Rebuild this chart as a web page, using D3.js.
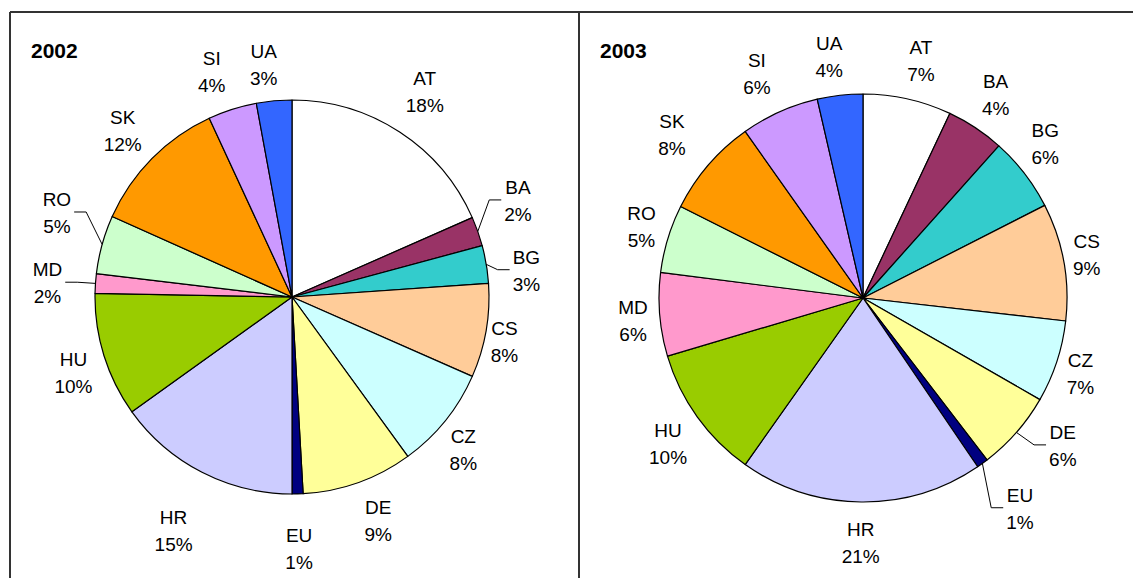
<html>
<script src='https://d3js.org/d3.v7.min.js'></script>
<style>
body {margin:0; background:#fff;}
text {font-family: 'Liberation Sans', Arial, sans-serif; fill:#000;}
</style>
<body>
<svg width=1133 height=578></svg>
<script>
// data
var countries = ["AT","BA","BG","CS","CZ","DE","EU","HR","HU","MD","RO","SK","SI","UA"];
var colors = ["#ffffff","#993366","#33cccc","#ffcc99","#ccffff","#ffff99","#000080",
              "#ccccff","#99cc00","#ff99cc","#ccffcc","#ff9900","#cc99ff","#3366ff"];

var values2002 = [18.4, 2.4, 3.1, 7.7, 8.4, 9.1, 0.9, 15.1, 10.2, 1.6, 4.8, 11.4, 4.0, 2.9];
var labels2002 = ["18%","2%","3%","8%","8%","9%","1%","15%","10%","2%","5%","12%","4%","3%"];

var values2003 = [7.0, 4.6, 5.9, 9.3, 6.5, 6.3, 0.9, 19.3, 10.6, 6.6, 5.4, 7.8, 6.2, 3.6];
var labels2003 = ["7%","4%","6%","9%","7%","6%","1%","21%","10%","6%","5%","8%","6%","4%"];

// layout: label placement as [angle shift in degrees, distance from centre]
var charts = [
  {title: "2002", values: values2002, labels: labels2002, cx: 292, cy: 297, r: 197, tx: 31, ty: 58,
   place: {AT:[-0.3,245], BA:[-3.8,246], BG:[2.9,236], CS:[1.8,217], CZ:[2.7,229], DE:[-1.5,239],
           EU:[0,251], HR:[-0.2,261], HU:[-1.6,231], MD:[-0.5,245], RO:[4.4,250], SK:[0,238],
           SI:[-1.9,240], UA:[-1.7,235]},
   leaders: ["BA","BG","MD","RO"]},
  {title: "2003", values: values2003, labels: labels2003, cx: 863, cy: 298, r: 204, tx: 600, ty: 58,
   place: {AT:[1.1,245], BA:[-0.4,243], BG:[-2.7,239], CS:[-0.9,228], CZ:[0.9,230], DE:[-4.9,248],
           EU:[-1,262], HR:[0,244], HU:[-1,243], MD:[-0.8,231], RO:[1.1,233], SK:[0,252],
           SI:[-1.1,249], UA:[-1.5,244]},
   leaders: ["DE","EU"]}
];

var svg = d3.select("svg");
var fontSize = 19;

// frame
svg.append("path")
  .attr("d", "M10,12H1133M10,12V578M579,12V578")
  .attr("fill", "none").attr("stroke", "#333").attr("stroke-width", 2);

var color = d3.scaleOrdinal().domain(countries).range(colors);
var pie = d3.pie().sort(null).value(function(d) { return d.v; });

function polar(c, a, R) {
  return [c.cx + R * Math.sin(a), c.cy - R * Math.cos(a)];
}

charts.forEach(function(c) {
  var rows = countries.map(function(k, i) { return {k: k, v: c.values[i], lab: c.labels[i]}; });
  var arcs = pie(rows);
  var arc = d3.arc().innerRadius(0).outerRadius(c.r);
  var g = svg.append("g");

  g.append("text").attr("x", c.tx).attr("y", c.ty)
    .attr("font-size", 21).attr("font-weight", "bold").text(c.title);

  g.append("g").attr("transform", "translate(" + c.cx + "," + c.cy + ")")
    .selectAll("path").data(arcs).enter().append("path")
    .attr("d", arc)
    .attr("fill", function(d) { return color(d.data.k); })
    .attr("stroke", "#000").attr("stroke-width", 1.2).attr("stroke-linejoin", "round");

  arcs.forEach(function(d) {
    var mid = (d.startAngle + d.endAngle) / 2;
    var p = c.place[d.data.k];
    var a = mid + p[0] * Math.PI / 180;
    var pos = polar(c, a, p[1]);
    var t = g.append("text").attr("text-anchor", "middle").attr("font-size", fontSize);
    t.append("tspan").attr("x", pos[0]).attr("y", pos[1] - 6).text(d.data.k);
    t.append("tspan").attr("x", pos[0]).attr("y", pos[1] + 21).text(d.data.lab);

    if (c.leaders.indexOf(d.data.k) >= 0) {
      var hw = t.node().getBBox().width / 2;
      var s = polar(c, mid, c.r);
      var side = Math.sin(a) >= 0 ? 1 : -1;
      var edge = pos[0] - side * (hw + 3);
      var elbow = edge - side * 12;
      if (side > 0 && elbow < s[0]) elbow = s[0];
      if (side < 0 && elbow > s[0]) elbow = s[0];
      g.append("path")
        .attr("d", "M" + s[0] + "," + s[1] + "L" + elbow + "," + pos[1] + "L" + edge + "," + pos[1])
        .attr("fill", "none").attr("stroke", "#000").attr("stroke-width", 1);
    }
  });
});
</script>
</body>
</html>
